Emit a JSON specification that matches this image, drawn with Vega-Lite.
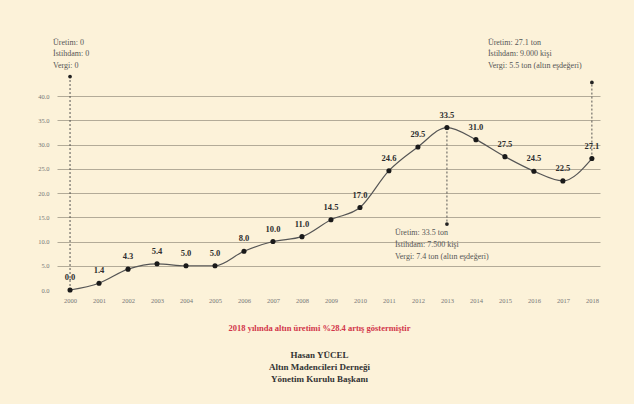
{
  "$schema": "https://vega.github.io/schema/vega-lite/v6.json",
  "width": 543,
  "height": 194,
  "autosize": {"type": "none"},
  "padding": {"left": 57, "top": 96, "right": 34, "bottom": 114},
  "background": "#fcf2d9",
  "config": {"view": {"stroke": null}, "font": "Liberation Serif"},
  "title": {
    "text": "2018 yılında altın üretimi %28.4 artış göstermiştir",
    "subtitle": ["Hasan YÜCEL", "Altın Madencileri Derneği", "Yönetim Kurulu Başkanı"],
    "orient": "bottom",
    "anchor": "middle",
    "offset": 20,
    "dx": -9,
    "font": "Liberation Serif",
    "fontSize": 8.5,
    "fontWeight": "bold",
    "color": "#d2364a",
    "subtitleFont": "Liberation Serif",
    "subtitleFontSize": 9,
    "subtitleFontWeight": "bold",
    "subtitleColor": "#333333",
    "subtitlePadding": 19,
    "subtitleLineHeight": 12
  },
  "datasets": {
    "main": [
      {"year": 2000, "value": 0.0},
      {"year": 2001, "value": 1.4},
      {"year": 2002, "value": 4.3},
      {"year": 2003, "value": 5.4},
      {"year": 2004, "value": 5.0},
      {"year": 2005, "value": 5.0},
      {"year": 2006, "value": 8.0},
      {"year": 2007, "value": 10.0},
      {"year": 2008, "value": 11.0},
      {"year": 2009, "value": 14.5},
      {"year": 2010, "value": 17.0},
      {"year": 2011, "value": 24.6},
      {"year": 2012, "value": 29.5},
      {"year": 2013, "value": 33.5},
      {"year": 2014, "value": 31.0},
      {"year": 2015, "value": 27.5},
      {"year": 2016, "value": 24.5},
      {"year": 2017, "value": 22.5},
      {"year": 2018, "value": 27.1}
    ],
    "dash": [
      {"year": 2000, "value": 0.0, "value2": 44.0},
      {"year": 2013, "value": 33.5, "value2": 13.6},
      {"year": 2018, "value": 27.1, "value2": 42.8}
    ],
    "ends": [
      {"year": 2000, "value": 44.0},
      {"year": 2013, "value": 13.6},
      {"year": 2018, "value": 42.8}
    ],
    "notesA": [
      {"year": 2000, "value": 51.0, "label": "Üretim: 0"},
      {"year": 2000, "value": 48.6, "label": "İstihdam: 0"},
      {"year": 2000, "value": 46.2, "label": "Vergi: 0"}
    ],
    "notesB": [
      {"year": 2013, "value": 11.7, "label": "Üretim: 33.5 ton"},
      {"year": 2013, "value": 9.3, "label": "İstihdam: 7.500 kişi"},
      {"year": 2013, "value": 6.8, "label": "Vergi: 7.4 ton (altın eşdeğeri)"}
    ],
    "notesC": [
      {"year": 2018, "value": 51.0, "label": "Üretim: 27.1 ton"},
      {"year": 2018, "value": 48.6, "label": "İstihdam: 9.000 kişi"},
      {"year": 2018, "value": 46.2, "label": "Vergi: 5.5 ton (altın eşdeğeri)"}
    ]
  },
  "encoding": {
    "x": {
      "field": "year",
      "type": "quantitative",
      "scale": {"domain": [1999.55, 2018.28], "nice": false, "zero": false},
      "axis": {
        "title": null,
        "values": [2000, 2001, 2002, 2003, 2004, 2005, 2006, 2007, 2008, 2009, 2010, 2011, 2012, 2013, 2014, 2015, 2016, 2017, 2018],
        "format": "d",
        "grid": false,
        "ticks": false,
        "domain": false,
        "labelPadding": 7,
        "labelFontSize": 6.5,
        "labelColor": "#777777",
        "labelFont": "Liberation Serif"
      }
    },
    "y": {
      "field": "value",
      "type": "quantitative",
      "scale": {"domain": [0, 40], "nice": false},
      "axis": {
        "title": null,
        "values": [0, 5, 10, 15, 20, 25, 30, 35, 40],
        "format": ".1f",
        "grid": true,
        "gridColor": "#aaa391",
        "gridWidth": 0.9,
        "gridOpacity": {"condition": {"test": "datum.value === 0", "value": 0}, "value": 1},
        "ticks": false,
        "domain": false,
        "labelPadding": 8,
        "labelFontSize": 6.5,
        "labelColor": "#777777",
        "labelFont": "Liberation Serif"
      }
    }
  },
  "layer": [
    {
      "data": {"name": "dash"},
      "mark": {"type": "rule", "strokeDash": [2, 2], "strokeWidth": 0.9, "color": "#444444"},
      "encoding": {"y2": {"field": "value2"}}
    },
    {
      "data": {"name": "ends"},
      "mark": {"type": "circle", "size": 14, "color": "#222222", "opacity": 1}
    },
    {
      "data": {"name": "main"},
      "mark": {"type": "line", "interpolate": "monotone", "color": "#555555", "strokeWidth": 1.2}
    },
    {
      "data": {"name": "main"},
      "mark": {"type": "circle", "size": 26, "color": "#1a1a1a", "opacity": 1}
    },
    {
      "data": {"name": "main"},
      "mark": {"type": "text", "dy": -13, "fontSize": 8.5, "fontWeight": "bold", "color": "#2e2e2e", "font": "Liberation Serif"},
      "encoding": {"text": {"field": "value", "type": "quantitative", "format": ".1f"}}
    },
    {
      "data": {"name": "notesA"},
      "mark": {"type": "text", "align": "left", "dx": -17, "fontSize": 8, "color": "#555555", "font": "Liberation Serif"},
      "encoding": {"text": {"field": "label"}}
    },
    {
      "data": {"name": "notesB"},
      "mark": {"type": "text", "align": "left", "dx": -52, "fontSize": 8, "color": "#555555", "font": "Liberation Serif"},
      "encoding": {"text": {"field": "label"}}
    },
    {
      "data": {"name": "notesC"},
      "mark": {"type": "text", "align": "left", "dx": -104, "fontSize": 8, "color": "#555555", "font": "Liberation Serif"},
      "encoding": {"text": {"field": "label"}}
    }
  ]
}
